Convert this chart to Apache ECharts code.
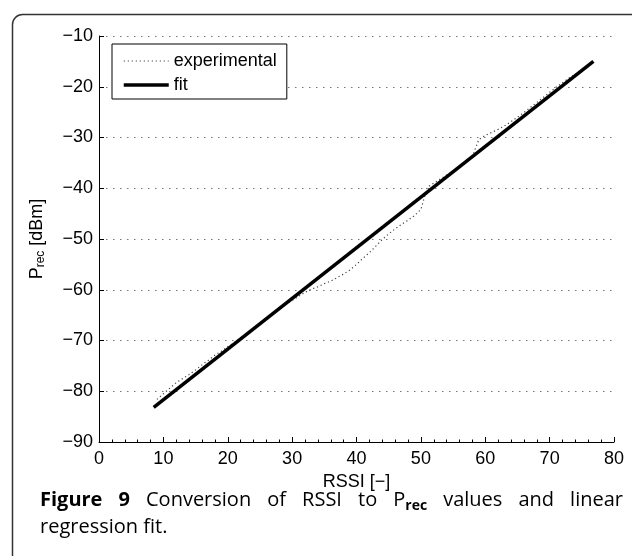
<!DOCTYPE html>
<html><head><meta charset="utf-8">
<script src="https://cdn.jsdelivr.net/npm/echarts@6/dist/echarts.min.js"></script>
<style>html,body{margin:0;padding:0;background:#fff}#c{width:632px;height:556px}</style>
</head><body><div id="c"></div>
<script>
// ---- data ----
const rssiExperimental = [9,10,11,12,13,14,15,16,17,18,19,20,21,22,23,24,25,26,27,28,29,30,31,32,33,34,35,36,37,38,39,40,41,42,43,44,45,46,47,48,49,50,51,52,53,54,55,56,57,58,59,60,61,62,63,64,65,66,67,68,69,70,71,72,73,74,75,76,77];
const precExperimental = [-81.6,-80.5,-79.4,-78.3,-77.5,-76.7,-75.8,-74.8,-73.9,-72.9,-72.1,-71.2,-70.4,-69.5,-68.6,-67.7,-66.7,-65.7,-64.7,-63.7,-62.9,-62.1,-61.3,-60.5,-59.9,-59.4,-58.8,-58.3,-57.6,-56.9,-56.1,-55.0,-53.8,-52.7,-51.4,-50.1,-49.0,-48.0,-47.1,-46.3,-45.4,-44.2,-39.8,-39.0,-38.2,-37.4,-36.6,-35.8,-34.8,-33.8,-30.4,-29.6,-29.0,-28.4,-27.7,-26.9,-26.0,-25.1,-24.1,-23.1,-22.1,-21.1,-20.1,-19.2,-18.3,-17.5,-16.7,-15.8,-14.8];
const rssiFit = [8.5, 76.8];
const precFit = [-83.2, -15.0];
const seriesNames = ['experimental', 'fit'];
const xTicks = [0, 10, 20, 30, 40, 50, 60, 70, 80];
const yTicks = [-90, -80, -70, -60, -50, -40, -30, -20, -10];

const chart = echarts.init(document.getElementById('c'), null, {renderer: 'canvas'});
const tickFont = 'Liberation Sans';
const minus = v => String(v).replace('-', '\u2212');

// ---- caption layout (justified first line) ----
const capFontSize = 20;
const subFontSize = 14;
const capFamily = '"Open Sans"';
const capY1 = 500, capY2 = 527, capX0 = 40, capX1 = 623;
const words1 = [
  {t: 'Figure', b: true}, {t: '9', b: true}, {t: 'Conversion'}, {t: 'of'}, {t: 'RSSI'},
  {t: 'to'}, {t: 'P', sub: 'rec'}, {t: 'values'}, {t: 'and'}, {t: 'linear'}
];
const mctx = document.createElement('canvas').getContext('2d');
function fontStr(b, size) { return (b ? 'bold ' : '') + size + 'px ' + capFamily; }
function tw(t, f) { mctx.font = f; return mctx.measureText(t).width; }
let sum = 0;
words1.forEach(w => {
  w.w = tw(w.t, fontStr(w.b, capFontSize));
  if (w.sub) { w.sw = tw(w.sub, fontStr(true, subFontSize)); w.w += w.sw; }
  sum += w.w;
});
const gap = (capX1 - capX0 - sum) / (words1.length - 1);
const graphics = [];
let cx = capX0;
words1.forEach(w => {
  if (w.sub) {
    const pw = w.w - w.sw;
    graphics.push({type: 'text', x: cx, y: capY1, style: {text: w.t, font: fontStr(w.b, capFontSize), fill: '#000', verticalAlign: 'middle'}});
    graphics.push({type: 'text', x: cx + pw, y: capY1 + 6, style: {text: w.sub, font: fontStr(true, subFontSize), fill: '#000', verticalAlign: 'middle'}});
  } else {
    graphics.push({type: 'text', x: cx, y: capY1, style: {text: w.t, font: fontStr(w.b, capFontSize), fill: '#000', verticalAlign: 'middle'}});
  }
  cx += w.w + gap;
});
graphics.push({type: 'text', x: capX0, y: capY2, style: {text: 'regression fit.', font: fontStr(false, capFontSize), fill: '#000', verticalAlign: 'middle'}});
// frame (rounded box, extends beyond the picture on the right and bottom)
graphics.push({type: 'rect', shape: {x: 12.5, y: 14.5, width: 700, height: 700, r: 10}, style: {fill: 'none', stroke: '#333', lineWidth: 1.5}, z: -1});

chart.setOption({
  animation: false,
  backgroundColor: '#fff',
  grid: {left: 99, right: 18, top: 36, bottom: 114, containLabel: false},
  legend: {
    data: [
      {name: seriesNames[0], lineStyle: {type: [1.2, 2.8], width: 1.2, color: '#444'}},
      {name: seriesNames[1], lineStyle: {width: 3.5, color: '#000'}}
    ],
    orient: 'vertical', left: 112, top: 44,
    itemWidth: 45, itemHeight: 18, itemGap: 6, padding: [8, 10, 5, 10],
    borderColor: '#000', borderWidth: 1, borderRadius: 0, backgroundColor: '#fff',
    itemStyle: {opacity: 0, borderWidth: 0},
    textStyle: {fontSize: 18, fontFamily: tickFont, color: '#000'}
  },
  xAxis: {
    type: 'value', min: xTicks[0], max: xTicks[xTicks.length - 1], interval: 10,
    name: 'RSSI [\u2212]', nameLocation: 'middle', nameGap: 24,
    nameTextStyle: {fontSize: 18, fontFamily: tickFont, color: '#000'},
    axisLine: {show: true, onZero: false, lineStyle: {color: '#000', width: 1}},
    axisTick: {show: true, inside: true, length: 5, lineStyle: {color: '#000'}},
    minorTick: {show: true, splitNumber: 5, length: 2.5, lineStyle: {color: '#000'}},
    splitLine: {show: false},
    axisLabel: {fontSize: 18, fontFamily: tickFont, color: '#000', margin: 8, formatter: minus}
  },
  yAxis: {
    type: 'value', min: yTicks[0], max: yTicks[yTicks.length - 1], interval: 10,
    name: '{p|P}{s|rec}{p| [dBm]}', nameLocation: 'middle', nameGap: 52, nameRotate: 90,
    nameTextStyle: {
      color: '#000',
      rich: {
        p: {fontSize: 18, fontFamily: tickFont, color: '#000', lineHeight: 20},
        s: {fontSize: 12, fontFamily: tickFont, color: '#000', verticalAlign: 'bottom', lineHeight: 12, padding: [10, 0, 0, 0]}
      }
    },
    axisLine: {show: true, onZero: false, lineStyle: {color: '#000', width: 1}},
    axisTick: {show: true, inside: true, length: 5, lineStyle: {color: '#000'}},
    splitLine: {show: true, lineStyle: {type: [1.5, 5.5], color: '#777', width: 1}},
    axisLabel: {fontSize: 18, fontFamily: tickFont, color: '#000', margin: 6, formatter: minus}
  },
  series: [
    {
      name: seriesNames[0], type: 'line', symbol: 'none', showSymbol: false,
      data: rssiExperimental.map((x, i) => [x, precExperimental[i]]),
      lineStyle: {type: [1.2, 2.8], width: 1.2, color: '#444'}, itemStyle: {color: '#444'}, z: 2
    },
    {
      name: seriesNames[1], type: 'line', symbol: 'none', showSymbol: false,
      data: rssiFit.map((x, i) => [x, precFit[i]]),
      lineStyle: {width: 3.5, color: '#000'}, itemStyle: {color: '#000'}, z: 3
    }
  ],
  graphic: graphics
});
</script>
</body></html>
